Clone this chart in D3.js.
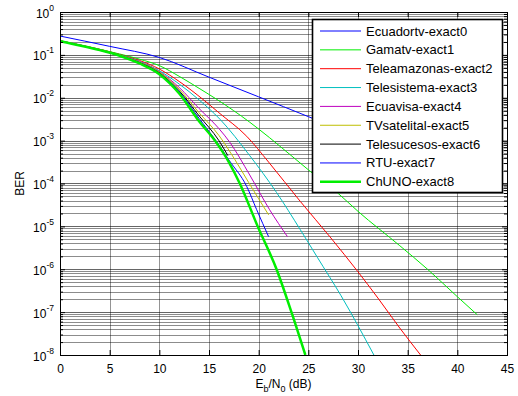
<!DOCTYPE html>
<html><head><meta charset="utf-8">
<script src="https://cdn.jsdelivr.net/npm/d3@7"></script>
<style>
body{margin:0;background:#fff}
text{font-family:Arial,"Liberation Sans",Helvetica,sans-serif}
</style>
</head><body>
<svg id="chart" width="518" height="396"></svg>
<script>
// ---------------- data ----------------
const seriesNames = ["Ecuadortv-exact0","Gamatv-exact1","Teleamazonas-exact2","Telesistema-exact3",
  "Ecuavisa-exact4","TVsatelital-exact5","Telesucesos-exact6","RTU-exact7","ChUNO-exact8"];
const seriesColors = ["#0000ff","#00ee00","#ff0000","#00bfbf","#bf00bf","#bfbf00","#000000","#0000ff","#00ee00"];
const seriesWidths = [1,1,1,1,1,1,1,1,2.5];

const ecuadortvEbN0 = [0,5,10,15,20,25,30];
const ecuadortvBER  = [0.275,0.158,0.0871,0.0302,0.0105,0.00363,0.0012];

const gamatvEbN0 = [0,2,4,6,8,10,12,14,15.8,19.1,21.1,25.2,27.9,30,34.2,37,40,42];
const gamatvBER  = [0.214,0.170,0.135,0.105,0.0794,0.0562,0.0316,0.0166,0.00912,0.00269,0.00117,1.91e-4,6.17e-5,2.24e-5,3.55e-6,1.0e-6,2.29e-7,8.71e-8];

const teleamazonasEbN0 = [0,2,4,6,8,10,12,14.4,16,18.8,21,24.2,27.2,30,32,34.2,36.3];
const teleamazonasBER  = [0.214,0.170,0.135,0.102,0.0741,0.0468,0.0240,0.00912,0.00447,0.00126,3.16e-4,3.80e-5,5.62e-6,8.71e-7,2.14e-7,4.27e-8,1e-8];

const telesistemaEbN0 = [0,2,4,6,8,10,12,14,16.1,19.1,21.8,24.2,25.9,28.3,31.6];
const telesistemaBER  = [0.214,0.170,0.132,0.1,0.0708,0.0427,0.0209,0.00891,0.00316,4.47e-4,6.17e-5,8.32e-6,1.91e-6,2.40e-7,1e-8];

const ecuavisaEbN0 = [0,2,4,6,8,10,12,14,16,17.1,19.1,21.1,22.9];
const ecuavisaBER  = [0.214,0.170,0.132,0.0977,0.0692,0.0407,0.0174,0.00562,0.00191,9.12e-4,1.58e-4,2.45e-5,5.75e-6];

const tvsatelitalEbN0 = [0,2,4,6,8,10,12,14,16,17.6,19,21];
const tvsatelitalBER  = [0.214,0.170,0.132,0.0977,0.0676,0.0398,0.0158,0.00447,0.00132,3.63e-4,1.05e-4,1.86e-5];

const telesucesosEbN0 = [0,2,4,6,8,10,12,14,16,16.9];
const telesucesosBER  = [0.209,0.166,0.129,0.0955,0.0661,0.0380,0.0145,0.00380,0.001,4.47e-4];

const rtuEbN0 = [0,2,4,6,8,10,12,14,16,17,18.8,19.8,21];
const rtuBER  = [0.209,0.166,0.129,0.0955,0.0646,0.0372,0.0138,0.00331,7.94e-4,3.55e-4,8.51e-5,2.45e-5,5.75e-6];

const chunoEbN0 = [0,2,4,6,8,10,12,14,15.6,17,18.1,19.9,21.8,23.3,24.7];
const chunoBER  = [0.209,0.166,0.129,0.0955,0.0631,0.0355,0.0126,0.00282,0.001,3.16e-4,1e-4,1e-5,1e-6,1e-7,1e-8];

const xTicks = [0,5,10,15,20,25,30,35,40,45];
const yTickExponents = [0,-1,-2,-3,-4,-5,-6,-7,-8];

const allX = [ecuadortvEbN0,gamatvEbN0,teleamazonasEbN0,telesistemaEbN0,ecuavisaEbN0,tvsatelitalEbN0,telesucesosEbN0,rtuEbN0,chunoEbN0];
const allY = [ecuadortvBER,gamatvBER,teleamazonasBER,telesistemaBER,ecuavisaBER,tvsatelitalBER,telesucesosBER,rtuBER,chunoBER];

// ---------------- layout ----------------
const W = 518, H = 396;
const m = {left:60, right:11, top:12, bottom:41};
const pw = W - m.left - m.right, ph = H - m.top - m.bottom;

const svg = d3.select("#chart");
const g = svg.append("g").attr("transform", `translate(${m.left},${m.top})`);

const x = d3.scaleLinear().domain([0,45]).range([0,pw]);
const y = d3.scaleLog().domain([1e-8,1]).range([ph,0]);

// grid
const minorVals = [];
for (let k=-8;k<0;k++) for (let mm=2;mm<=9;mm++) minorVals.push(mm*Math.pow(10,k));
const majorVals = yTickExponents.map(e=>Math.pow(10,e));

const grid = g.append("g").attr("shape-rendering","crispEdges");
grid.selectAll(".hmin").data(minorVals).join("line")
  .attr("x1",0).attr("x2",pw)
  .attr("y1",d=>Math.round(y(d))+0.5).attr("y2",d=>Math.round(y(d))+0.5)
  .attr("stroke","#000").attr("stroke-opacity",0.45).attr("stroke-width",1);
grid.selectAll(".hmaj").data(majorVals).join("line")
  .attr("x1",0).attr("x2",pw)
  .attr("y1",d=>Math.round(y(d))+0.5).attr("y2",d=>Math.round(y(d))+0.5)
  .attr("stroke","#000").attr("stroke-opacity",0.6).attr("stroke-width",1);
grid.selectAll(".v").data(xTicks).join("line")
  .attr("x1",d=>Math.round(x(d))+0.5).attr("x2",d=>Math.round(x(d))+0.5)
  .attr("y1",0).attr("y2",ph)
  .attr("stroke","#000").attr("stroke-opacity",0.42).attr("stroke-width",1);

// curves
svg.append("defs").append("clipPath").attr("id","clip")
  .append("rect").attr("x",0).attr("y",0).attr("width",pw).attr("height",ph);
const line = d3.line().x(d=>x(d[0])).y(d=>y(d[1])).curve(d3.curveMonotoneX);
const curves = g.append("g").attr("clip-path","url(#clip)");
allX.forEach((xs,i)=>{
  const pts = xs.map((v,j)=>[v, allY[i][j]]);
  curves.append("path").datum(pts)
    .attr("d", line).attr("fill","none")
    .attr("stroke", seriesColors[i]).attr("stroke-width", seriesWidths[i])
    .attr("stroke-linejoin","round");
});

// axes
const xAxis = g.append("g").attr("transform",`translate(0,${ph})`)
  .call(d3.axisBottom(x).tickValues(xTicks).tickSize(-5).tickPadding(9).tickFormat(d3.format("d")));
const xAxisTop = g.append("g")
  .call(d3.axisTop(x).tickValues(xTicks).tickSize(-5).tickFormat(""));
const yAxis = g.append("g")
  .call(d3.axisLeft(y).tickValues(majorVals).tickSize(-5).tickPadding(6).tickFormat(""));
const yAxisR = g.append("g").attr("transform",`translate(${pw},0)`)
  .call(d3.axisRight(y).tickValues(majorVals).tickSize(-5).tickFormat(""));
const yMinorL = g.append("g")
  .call(d3.axisLeft(y).tickValues(minorVals).tickSize(-3).tickFormat(""));
const yMinorR = g.append("g").attr("transform",`translate(${pw},0)`)
  .call(d3.axisRight(y).tickValues(minorVals).tickSize(-3).tickFormat(""));
[xAxis,xAxisTop,yAxis,yAxisR,yMinorL,yMinorR].forEach(a=>{
  a.selectAll(".domain").remove();
  a.selectAll("line").attr("stroke","#000");
});
xAxis.selectAll("text").attr("font-size",12).attr("fill","#000")
  .attr("font-family",'Arial,"Liberation Sans",sans-serif');

// y labels 10^k
yAxis.selectAll(".tick").each(function(d){
  const t = d3.select(this).select("text");
  const e = Math.round(Math.log10(d));
  t.attr("x",-6).attr("dy",null).attr("y",5).attr("text-anchor","end")
   .attr("font-size",12).attr("fill","#000")
   .attr("font-family",'Arial,"Liberation Sans",sans-serif').text(null);
  t.append("tspan").text("10");
  t.append("tspan").attr("font-size",8.5).attr("dy",-7).text(e);
});

// frame
g.append("rect").attr("x",0.5).attr("y",0.5).attr("width",pw-0.5).attr("height",ph-0.5)
  .attr("fill","none").attr("stroke","#000").attr("stroke-width",1).attr("shape-rendering","crispEdges");

// axis titles
const xl = svg.append("text").attr("x", m.left+pw/2).attr("y", 388).attr("text-anchor","middle")
  .attr("font-size",12).attr("fill","#000");
xl.append("tspan").text("E");
xl.append("tspan").attr("font-size",9).attr("dy",4).text("b");
xl.append("tspan").attr("dy",-4).text("/N");
xl.append("tspan").attr("font-size",9).attr("dy",4).text("0");
xl.append("tspan").attr("dy",-4).text(" (dB)");

svg.append("text").attr("transform",`translate(24,${m.top+ph/2}) rotate(-90)`)
  .attr("text-anchor","middle").attr("font-size",12).attr("fill","#000").text("BER");

// legend
const lg = svg.append("g");
lg.append("rect").attr("x",312.5).attr("y",19.5).attr("width",190).attr("height",173)
  .attr("fill","#fff").attr("stroke","#000").attr("stroke-width",1.6);
seriesNames.forEach((name,i)=>{
  const yy = 31 + i*18.85;
  lg.append("line").attr("x1",320).attr("x2",361).attr("y1",yy).attr("y2",yy)
    .attr("stroke",seriesColors[i]).attr("stroke-width",seriesWidths[i]);
  lg.append("text").attr("x",366).attr("y",yy+4.5).attr("font-size",13).attr("fill","#000").text(name);
});
</script>
</body></html>
